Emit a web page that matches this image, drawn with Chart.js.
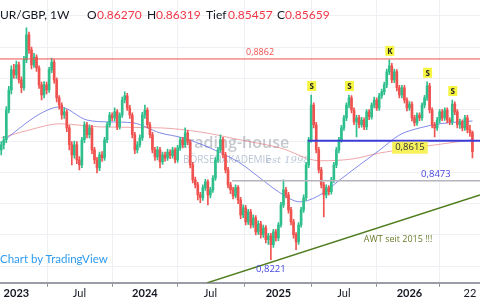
<!DOCTYPE html>
<html>
<head>
<meta charset="utf-8">
<script src="https://cdn.jsdelivr.net/npm/chart.js@4.4.1/dist/chart.umd.min.js"></script>
<style>
  html, body { margin: 0; padding: 0; background: #fff; }
  #wrap { position: relative; width: 480px; height: 300px; overflow: hidden; }
  #legend span { position: absolute; top: 7px; font: 12px Lato, sans-serif; white-space: nowrap; color: #131722; }
  #legend .val { color: #f23645; }
  #credit { position: absolute; left: 0; top: 252px; font: 11.5px Lato, sans-serif; color: #2e9bef; }
</style>
</head>
<body>
<div id="wrap">
  <canvas id="chart"></canvas>
  <div id="legend">
    <span style="left:0">UR/GBP, 1W</span>
    <span style="left:87px">O</span><span class="val" style="left:97px">0.86270</span>
    <span style="left:147px">H</span><span class="val" style="left:156px">0.86319</span>
    <span style="left:206px">Tief</span><span class="val" style="left:228px">0.85457</span>
    <span style="left:277px">C</span><span class="val" style="left:285px">0.85659</span>
  </div>
  <div id="credit">Chart by TradingView</div>
</div>
<script>
// EUR/GBP weekly candles (one entry per week)
const tickWeeks = [6, 31, 57, 83, 110, 136, 162, 186];
const tickLabels = ['2023', 'Jul', '2024', 'Jul', '2025', 'Jul', '2026', '22'];
const gridPrices = [0.82, 0.83, 0.84, 0.85, 0.86, 0.87, 0.88, 0.89, 0.90];

const opens = [
  .8572,.8588,.8604,.8699,.8763,.8827,.8811,.8843,.8795,.8770,
  .8859,.8939,.8891,.8843,.8868,.8833,.8779,.8747,.8779,.8763,
  .8827,.8852,.8795,.8738,.8715,.8683,.8693,.8642,.8588,.8556,
  .8588,.8540,.8524,.8604,.8652,.8620,.8642,.8572,.8540,.8514,
  .8556,.8546,.8604,.8652,.8683,.8674,.8693,.8645,.8683,.8731,
  .8744,.8706,.8683,.8620,.8572,.8588,.8610,.8683,.8699,.8652,
  .8620,.8572,.8549,.8572,.8533,.8556,.8546,.8565,.8553,.8572,
  .8540,.8578,.8604,.8588,.8626,.8597,.8524,.8476,.8460,.8428,
  .8419,.8451,.8470,.8428,.8444,.8482,.8540,.8572,.8604,.8556,
  .8508,.8460,.8444,.8425,.8451,.8412,.8364,.8387,.8342,.8374,
  .8332,.8355,.8310,.8336,.8301,.8323,.8285,.8297,.8269,.8310,
  .8291,.8332,.8396,.8444,.8428,.8380,.8342,.8301,.8278,.8332,
  .8380,.8419,.8524,.8604,.8715,.8652,.8572,.8508,.8460,.8428,
  .8451,.8438,.8476,.8524,.8572,.8604,.8642,.8674,.8715,.8738,
  .8699,.8661,.8674,.8652,.8667,.8645,.8693,.8677,.8715,.8731,
  .8706,.8744,.8757,.8779,.8821,.8840,.8795,.8821,.8770,.8747,
  .8770,.8731,.8706,.8718,.8674,.8658,.8683,.8674,.8715,.8738,
  .8776,.8699,.8652,.8642,.8667,.8693,.8674,.8699,.8667,.8661,
  .8718,.8693,.8652,.8661,.8642,.8674,.8636,.86270
];
const highs = [
  .8598,.8615,.8710,.8775,.8840,.8845,.8855,.8852,.8805,.8870,
  .8961,.8948,.8900,.8880,.8875,.8840,.8788,.8790,.8788,.8835,
  .8865,.8860,.8802,.8745,.8722,.8705,.8700,.8650,.8598,.8600,
  .8598,.8550,.8612,.8661,.8660,.8652,.8650,.8580,.8548,.8565,
  .8566,.8612,.8660,.8692,.8690,.8706,.8700,.8690,.8740,.8757,
  .8752,.8714,.8690,.8628,.8598,.8620,.8692,.8715,.8706,.8660,
  .8628,.8580,.8582,.8580,.8565,.8565,.8574,.8572,.8580,.8578,
  .8586,.8612,.8612,.8642,.8634,.8604,.8532,.8485,.8468,.8436,
  .8460,.8478,.8476,.8452,.8490,.8548,.8580,.8620,.8612,.8564,
  .8516,.8468,.8452,.8460,.8458,.8420,.8396,.8395,.8382,.8382,
  .8364,.8362,.8345,.8344,.8332,.8330,.8305,.8305,.8318,.8318,
  .8340,.8404,.8476,.8452,.8436,.8388,.8350,.8308,.8340,.8388,
  .8428,.8532,.8612,.8747,.8722,.8660,.8580,.8516,.8468,.8460,
  .8458,.8484,.8532,.8580,.8612,.8650,.8682,.8722,.8747,.8745,
  .8706,.8682,.8682,.8676,.8674,.8700,.8700,.8722,.8740,.8738,
  .8752,.8766,.8788,.8830,.8859,.8848,.8830,.8828,.8778,.8778,
  .8778,.8738,.8726,.8725,.8682,.8690,.8690,.8722,.8746,.8789,
  .8784,.8706,.8660,.8676,.8700,.8700,.8706,.8706,.8674,.8731,
  .8725,.8700,.8670,.8668,.8682,.8682,.8650,.86319
];
const lows = [
  .8556,.8575,.8595,.8690,.8750,.8800,.8800,.8785,.8754,.8762,
  .8850,.8880,.8830,.8835,.8822,.8768,.8731,.8738,.8750,.8755,
  .8818,.8785,.8725,.8702,.8670,.8672,.8630,.8572,.8524,.8545,
  .8528,.8508,.8515,.8595,.8610,.8610,.8560,.8528,.8498,.8505,
  .8535,.8538,.8595,.8645,.8665,.8665,.8636,.8638,.8675,.8722,
  .8698,.8672,.8610,.8560,.8562,.8580,.8602,.8672,.8642,.8610,
  .8562,.8538,.8540,.8514,.8525,.8536,.8538,.8544,.8545,.8530,
  .8532,.8570,.8578,.8580,.8588,.8514,.8466,.8450,.8412,.8403,
  .8410,.8442,.8396,.8418,.8436,.8474,.8532,.8565,.8546,.8498,
  .8450,.8432,.8415,.8418,.8400,.8352,.8355,.8332,.8334,.8322,
  .8324,.8300,.8302,.8290,.8292,.8275,.8270,.8221,.8260,.8280,
  .8282,.8325,.8388,.8418,.8370,.8332,.8290,.8253,.8270,.8325,
  .8372,.8410,.8515,.8596,.8642,.8562,.8498,.8450,.8358,.8418,
  .8428,.8430,.8468,.8515,.8562,.8596,.8634,.8665,.8706,.8690,
  .8652,.8613,.8642,.8644,.8636,.8636,.8668,.8670,.8706,.8698,
  .8698,.8736,.8748,.8770,.8812,.8786,.8786,.8760,.8738,.8738,
  .8722,.8696,.8698,.8664,.8648,.8650,.8665,.8666,.8706,.8730,
  .8690,.8642,.8613,.8634,.8658,.8665,.8666,.8658,.8652,.8652,
  .8684,.8642,.8640,.8632,.8634,.8626,.8615,.85457
];
const closes = [
  .8588,.8604,.8699,.8763,.8827,.8811,.8843,.8795,.8770,.8859,
  .8939,.8891,.8843,.8868,.8833,.8779,.8747,.8779,.8763,.8827,
  .8852,.8795,.8738,.8715,.8683,.8693,.8642,.8588,.8556,.8588,
  .8540,.8524,.8604,.8652,.8620,.8642,.8572,.8540,.8514,.8556,
  .8546,.8604,.8652,.8683,.8674,.8693,.8645,.8683,.8731,.8744,
  .8706,.8683,.8620,.8572,.8588,.8610,.8683,.8699,.8652,.8620,
  .8572,.8549,.8572,.8533,.8556,.8546,.8565,.8553,.8572,.8540,
  .8578,.8604,.8588,.8626,.8597,.8524,.8476,.8460,.8428,.8419,
  .8451,.8470,.8428,.8444,.8482,.8540,.8572,.8604,.8556,.8508,
  .8460,.8444,.8425,.8451,.8412,.8364,.8387,.8342,.8374,.8332,
  .8355,.8310,.8336,.8301,.8323,.8285,.8297,.8269,.8310,.8291,
  .8332,.8396,.8444,.8428,.8380,.8342,.8301,.8278,.8332,.8380,
  .8419,.8524,.8604,.8715,.8652,.8572,.8508,.8460,.8428,.8451,
  .8438,.8476,.8524,.8572,.8604,.8642,.8674,.8715,.8738,.8699,
  .8661,.8674,.8652,.8667,.8645,.8693,.8677,.8715,.8731,.8706,
  .8744,.8757,.8779,.8821,.8840,.8795,.8821,.8770,.8747,.8770,
  .8731,.8706,.8718,.8674,.8658,.8683,.8674,.8715,.8738,.8776,
  .8699,.8652,.8642,.8667,.8693,.8674,.8699,.8667,.8661,.8718,
  .8693,.8652,.8661,.8642,.8674,.8636,.8627,.85659
];

// moving averages, read at a few weeks: [week, price]
const maFast = [
  [0, .8594], [7.4, .8642], [15.4, .8687], [23.3, .8709], [34, .8667], [43.2, .8661],
  [52.3, .8658], [63, .8626], [72.1, .8610], [82.8, .8578], [94.7, .8530], [102.7, .8482],
  [110.6, .8435], [118.5, .8406], [126.5, .8428], [134.4, .8476], [139.6, .8508],
  [150.3, .8572], [158.2, .8620], [166.2, .8642], [174.1, .8655], [187, .8664]
];
const maSlow = [
  [0, .8610], [11.4, .8636], [23.3, .8655], [39.2, .8645], [63, .8642], [78.9, .8629],
  [94.7, .8604], [110.6, .8578], [126.5, .8537], [139.6, .8543], [150.3, .8562],
  [166.2, .8581], [187, .8604]
];

// drawn levels and the long-term trend line
const resistance = 0.8862;
const neckline = 0.8601;      // where the blue line sits in the picture
const necklineLabel = '0,8615';
const support = 0.8473;
const yearLow = 0.8221;
const trendLine = [[81.6, 0.8147], [190, 0.8428]];
const markerWeeks = [123, 138, 154, 169, 179];
const markerLabels = ['S', 'S', 'K', 'S', 'S'];

const UP = '#2fbf8c';
const DOWN = '#ef5350';
const candleColors = closes.map((c, i) => c >= opens[i] ? UP : DOWN);

const pts = arr => arr.map(p => ({ x: p[0], y: p[1] }));

const overlay = {
  id: 'overlay',
  beforeDatasetsDraw(chart) {
    const ctx = chart.ctx;
    ctx.save();
    ctx.textBaseline = 'middle';
    ctx.textAlign = 'left';
    ctx.fillStyle = 'rgba(150,156,166,0.55)';
    ctx.font = '600 16px "Open Sans", sans-serif';
    ctx.fillText('trading-house', 181, 143);
    ctx.fillStyle = 'rgba(130,150,178,0.55)';
    ctx.font = '10px "Open Sans", sans-serif';
    ctx.fillText('BÖRSENAKADEMIE', 183, 160);
    ctx.font = 'italic 10px "DejaVu Serif", serif';
    ctx.fillText('est 1998', 266, 160);
    ctx.restore();
  },
  afterDatasetsDraw(chart) {
    const { ctx, scales: { x, y } } = chart;
    ctx.save();
    ctx.textBaseline = 'middle';
    ctx.textAlign = 'center';

    ctx.font = '9px "Open Sans", sans-serif';
    ctx.fillStyle = '#f0504f';
    ctx.fillText('0,8862', x.getPixelForValue(102.7), y.getPixelForValue(resistance) - 7);

    const nx = x.getPixelForValue(162.2), ny = y.getPixelForValue(neckline) + 7;
    ctx.font = '9.5px "Open Sans", sans-serif';
    const w = ctx.measureText(necklineLabel).width + 6;
    ctx.fillStyle = '#f7f25c';
    ctx.fillRect(nx - w / 2, ny - 6, w, 12);
    ctx.fillStyle = '#333';
    ctx.fillText(necklineLabel, nx, ny);

    ctx.font = '9.5px "Open Sans", sans-serif';
    ctx.fillStyle = '#4646e0';
    ctx.fillText('0,8473', x.getPixelForValue(172.5), y.getPixelForValue(support) - 7);
    ctx.fillText('0,8221', x.getPixelForValue(107), y.getPixelForValue(yearLow) + 10);

    ctx.font = '9px "Open Sans", sans-serif';
    ctx.fillStyle = '#6a7d2c';
    ctx.fillText('AWT seit 2015 !!!', x.getPixelForValue(157.5), 239);

    ctx.font = 'bold 8px "Open Sans", sans-serif';
    markerWeeks.forEach((wk, k) => {
      const mx = x.getPixelForValue(wk);
      const my = y.getPixelForValue(highs[wk]) - 9;
      ctx.fillStyle = '#f5f542';
      ctx.fillRect(mx - 4, my - 5, 9, 10);
      ctx.fillStyle = '#222';
      ctx.fillText(markerLabels[k], mx + 0.5, my + 0.5);
    });
    ctx.restore();
  }
};

new Chart(document.getElementById('chart'), {
  type: 'bar',
  data: {
    datasets: [
      {
        type: 'line', data: [{ x: -0.5, y: resistance }, { x: 190, y: resistance }],
        borderColor: '#f0504f', borderWidth: 1, pointRadius: 0, order: 1
      },
      {
        type: 'line', data: [{ x: 121.7, y: neckline }, { x: 190, y: neckline }],
        borderColor: '#3c3cd8', borderWidth: 2, pointRadius: 0, order: 1
      },
      {
        type: 'line', data: [{ x: 91.6, y: support }, { x: 190, y: support }],
        borderColor: '#b4b4bc', borderWidth: 1.5, pointRadius: 0, order: 1
      },
      {
        type: 'line', data: pts(trendLine),
        borderColor: '#4f7d1e', borderWidth: 1.5, pointRadius: 0, order: 1
      },
      {
        type: 'line', data: pts(maFast), cubicInterpolationMode: 'monotone',
        borderColor: 'rgba(90,100,225,0.75)', borderWidth: 1, pointRadius: 0, order: 4
      },
      {
        type: 'line', data: pts(maSlow), cubicInterpolationMode: 'monotone',
        borderColor: 'rgba(230,120,125,0.65)', borderWidth: 1, pointRadius: 0, order: 4
      },
      {
        data: lows.map((l, i) => ({ x: i, y: [l, highs[i]] })),
        backgroundColor: candleColors, barThickness: 1, grouped: false, order: 3
      },
      {
        data: opens.map((o, i) => ({ x: i, y: [o, closes[i]] })),
        backgroundColor: candleColors, barThickness: 2, minBarLength: 1, grouped: false, order: 2
      }
    ]
  },
  options: {
    responsive: true,
    maintainAspectRatio: false,
    animation: false,
    layout: { padding: 0 },
    plugins: { legend: { display: false }, tooltip: { enabled: false } },
    scales: {
      x: {
        type: 'linear', min: -0.5, max: 190, offset: false,
        afterBuildTicks: s => { s.ticks = tickWeeks.map(v => ({ value: v })); },
        ticks: {
          autoSkip: false, maxRotation: 0, padding: 0, color: '#131722',
          font: c => ({ family: 'Lato', size: 11, weight: /^\d{4}$/.test(tickLabels[c.index]) ? 'bold' : 'normal' }),
          callback: (v, i) => tickLabels[i]
        },
        grid: { color: '#eef0f4', tickColor: '#8d9099', tickLength: 4 },
        border: { color: '#9a9da6', width: 2 }
      },
      y: {
        min: 0.81474, max: 0.90502,
        afterFit: s => { s.width = 0; },
        afterBuildTicks: s => { s.ticks = gridPrices.map(v => ({ value: v })); },
        ticks: { display: false },
        grid: { color: '#eef0f4', drawTicks: false },
        border: { display: false }
      }
    }
  },
  plugins: [overlay]
});
</script>
</body>
</html>
